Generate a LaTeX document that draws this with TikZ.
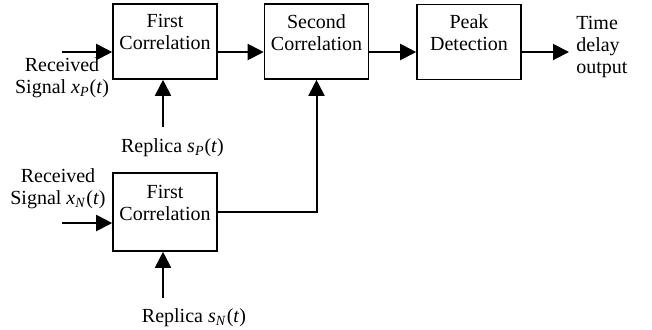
\documentclass[tikz,border=0pt]{standalone}
\usepackage{fontspec}
\setmainfont{Liberation Serif}
\usetikzlibrary{arrows.meta}
\tikzset{
	bloc/.style={draw, line width=0.8pt, minimum width=52pt, minimum height=37.5pt, align=center, inner sep=0pt},
	texte/.style={inner sep=0pt},
	fleche/.style={line width=1pt, -{Triangle[length=8pt,width=8pt]}},
}
\newcommand{\sigtxt}[2]{\textit{#1}\textsubscript{\textit{#2}}(\textit{t})}

\begin{document}
\begin{tikzpicture}[x=0.5pt, y=-0.5pt, font=\fontsize{10}{11}\selectfont]
	\useasboundingbox (0,0) rectangle (652,329);
	% Blocs
	\node[bloc] (corrP) at (165,41.5) {First\\Correlation\\[-5pt]\strut};
	\node[bloc] (corr2) at (316.5,41.5) {Second\\Correlation\\[-5pt]\strut};
	\node[bloc] (pic) at (469,42) {Peak\\Detection\\[-5pt]\strut};
	\node[bloc, minimum height=39pt] (corrN) at (165,212) {First\\Correlation\\[-5pt]\strut};
	% Textes
	\node[texte, align=center] (recP) at (62,78) {Received\\Signal \sigtxt{x}{P}};
	\node[texte, align=center] (recN) at (58,189) {Received\\Signal \sigtxt{x}{N}};
	\node[texte] (repP) at (172.5,148) {Replica \sigtxt{s}{P}};
	\node[texte] (repN) at (194,318) {Replica \sigtxt{s}{N}};
	\node[texte, align=left, anchor=west] (sortie) at (576,47) {Time\\delay\\output};
	% Fleches
	\coordinate (entP) at (62,52);
	\coordinate (entN) at (62,223);
	\coordinate (basP) at (163,127);
	\coordinate (basN) at (163,298);
	\coordinate (fin) at (569,52);
	\draw[fleche] (entP) -- (entP -| corrP.west);
	\draw[fleche] (corrP.east |- entP) -- (corr2.west |- entP);
	\draw[fleche] (corr2.east |- entP) -- (pic.west |- entP);
	\draw[fleche] (pic.east |- entP) -- (fin);
	\draw[fleche] (basP) -- (basP |- corrP.south);
	\draw[fleche] (entN) -- (entN -| corrN.west);
	\draw[fleche] (basN) -- (basN |- corrN.south);
	\draw[fleche] (corrN.east) -| (corr2.south);
\end{tikzpicture}
\end{document}
